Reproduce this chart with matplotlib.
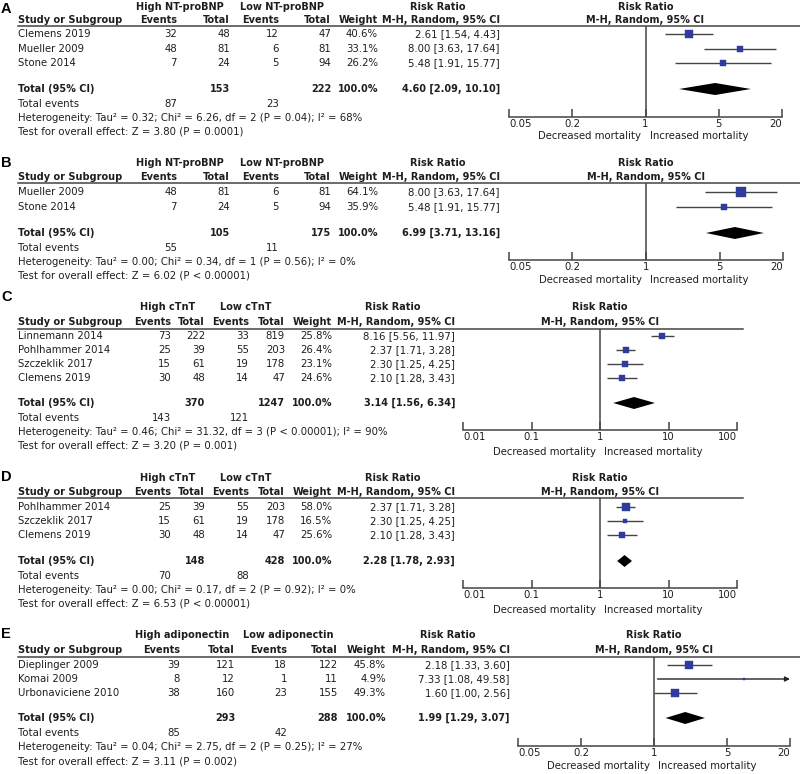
import matplotlib
matplotlib.use('Agg')
import matplotlib.pyplot as plt
from matplotlib import transforms
from matplotlib.ticker import FixedLocator, NullLocator
import numpy as np

# ---------------- data ----------------
A_studies = ["Clemens 2019", "Mueller 2009", "Stone 2014"]
A_ev_hi = [32, 48, 7]
A_n_hi = [48, 81, 24]
A_ev_lo = [12, 6, 5]
A_n_lo = [47, 81, 94]
A_weight = [40.6, 33.1, 26.2]
A_rr = [2.61, 8.00, 5.48]
A_lo = [1.54, 3.63, 1.91]
A_hi = [4.43, 17.64, 15.77]
A_totals = [153, 222]
A_tot_events = [87, 23]
A_pooled = [4.60, 2.09, 10.10]
A_groups = ["High NT-proBNP", "Low NT-proBNP"]
A_het = "Heterogeneity: Tau\u00b2 = 0.32; Chi\u00b2 = 6.26, df = 2 (P = 0.04); I\u00b2 = 68%"
A_test = "Test for overall effect: Z = 3.80 (P = 0.0001)"
A_ticks = [0.05, 0.2, 1, 5, 20]

B_studies = ["Mueller 2009", "Stone 2014"]
B_ev_hi = [48, 7]
B_n_hi = [81, 24]
B_ev_lo = [6, 5]
B_n_lo = [81, 94]
B_weight = [64.1, 35.9]
B_rr = [8.00, 5.48]
B_lo = [3.63, 1.91]
B_hi = [17.64, 15.77]
B_totals = [105, 175]
B_tot_events = [55, 11]
B_pooled = [6.99, 3.71, 13.16]
B_groups = ["High NT-proBNP", "Low NT-proBNP"]
B_het = "Heterogeneity: Tau\u00b2 = 0.00; Chi\u00b2 = 0.34, df = 1 (P = 0.56); I\u00b2 = 0%"
B_test = "Test for overall effect: Z = 6.02 (P < 0.00001)"
B_ticks = [0.05, 0.2, 1, 5, 20]

C_studies = ["Linnemann 2014", "Pohlhammer 2014", "Szczeklik 2017", "Clemens 2019"]
C_ev_hi = [73, 25, 15, 30]
C_n_hi = [222, 39, 61, 48]
C_ev_lo = [33, 55, 19, 14]
C_n_lo = [819, 203, 178, 47]
C_weight = [25.8, 26.4, 23.1, 24.6]
C_rr = [8.16, 2.37, 2.30, 2.10]
C_lo = [5.56, 1.71, 1.25, 1.28]
C_hi = [11.97, 3.28, 4.25, 3.43]
C_totals = [370, 1247]
C_tot_events = [143, 121]
C_pooled = [3.14, 1.56, 6.34]
C_groups = ["High cTnT", "Low cTnT"]
C_het = "Heterogeneity: Tau\u00b2 = 0.46; Chi\u00b2 = 31.32, df = 3 (P < 0.00001); I\u00b2 = 90%"
C_test = "Test for overall effect: Z = 3.20 (P = 0.001)"
C_ticks = [0.01, 0.1, 1, 10, 100]

D_studies = ["Pohlhammer 2014", "Szczeklik 2017", "Clemens 2019"]
D_ev_hi = [25, 15, 30]
D_n_hi = [39, 61, 48]
D_ev_lo = [55, 19, 14]
D_n_lo = [203, 178, 47]
D_weight = [58.0, 16.5, 25.6]
D_rr = [2.37, 2.30, 2.10]
D_lo = [1.71, 1.25, 1.28]
D_hi = [3.28, 4.25, 3.43]
D_totals = [148, 428]
D_tot_events = [70, 88]
D_pooled = [2.28, 1.78, 2.93]
D_groups = ["High cTnT", "Low cTnT"]
D_het = "Heterogeneity: Tau\u00b2 = 0.00; Chi\u00b2 = 0.17, df = 2 (P = 0.92); I\u00b2 = 0%"
D_test = "Test for overall effect: Z = 6.53 (P < 0.00001)"
D_ticks = [0.01, 0.1, 1, 10, 100]

E_studies = ["Dieplinger 2009", "Komai 2009", "Urbonaviciene 2010"]
E_ev_hi = [39, 8, 38]
E_n_hi = [121, 12, 160]
E_ev_lo = [18, 1, 23]
E_n_lo = [122, 11, 155]
E_weight = [45.8, 4.9, 49.3]
E_rr = [2.18, 7.33, 1.60]
E_lo = [1.33, 1.08, 1.00]
E_hi = [3.60, 49.58, 2.56]
E_totals = [293, 288]
E_tot_events = [85, 42]
E_pooled = [1.99, 1.29, 3.07]
E_groups = ["High adiponectin", "Low adiponectin"]
E_het = "Heterogeneity: Tau\u00b2 = 0.04; Chi\u00b2 = 2.75, df = 2 (P = 0.25); I\u00b2 = 27%"
E_test = "Test for overall effect: Z = 3.11 (P = 0.002)"
E_ticks = [0.05, 0.2, 1, 5, 20]

# ---------------- layout (pixels) ----------------
LAY_A = dict(letter_y=13, h1=7, h2=20, rule=26, row0=34, step=14.5, total=89, tev=104,
             het=118, test=131, axis=117, dec=136, cols=[177, 230, 279, 331, 378, 500],
             grp=[180, 282], rr_hdr=438, plot_x=(509, 782), rule_end=800)
LAY_B = dict(letter_y=167, h1=163, h2=177, rule=183, row0=192, step=15, total=233, tev=248,
             het=262, test=276, axis=260, dec=280, cols=[177, 230, 279, 331, 378, 500],
             grp=[180, 282], rr_hdr=438, plot_x=(509, 783), rule_end=800)
LAY_C = dict(letter_y=301, h1=307, h2=322, rule=329, row0=336, step=14, total=403, tev=418,
             het=432, test=446, axis=430, dec=452, cols=[171, 205, 249, 285, 332, 455],
             grp=[168, 246], rr_hdr=393, plot_x=(463, 737), rule_end=743)
LAY_D = dict(letter_y=481, h1=478, h2=492, rule=498, row0=507, step=14, total=561, tev=576,
             het=590, test=604, axis=588, dec=610, cols=[171, 205, 249, 285, 332, 455],
             grp=[168, 246], rr_hdr=393, plot_x=(463, 737), rule_end=743)
LAY_E = dict(letter_y=638, h1=635, h2=650, rule=657, row0=665, step=14, total=718, tev=733,
             het=747, test=761, axis=746, dec=766, cols=[180, 235, 287, 338, 386, 510],
             grp=[182, 288], rr_hdr=448, plot_x=(518, 790), rule_end=800)

def make_panel(letter, ns, lay):
    g = lambda k: ns[letter + "_" + k]
    return dict(letter=letter, studies=g("studies"), ev_hi=g("ev_hi"), n_hi=g("n_hi"),
                ev_lo=g("ev_lo"), n_lo=g("n_lo"), weight=g("weight"), rr=g("rr"),
                lo=g("lo"), hi=g("hi"), totals=g("totals"), tot_events=g("tot_events"),
                pooled=g("pooled"), groups=g("groups"), het=g("het"), test=g("test"),
                ticks=g("ticks"), lay=lay)

NS = globals()
panels = [make_panel("A", NS, LAY_A), make_panel("B", NS, LAY_B), make_panel("C", NS, LAY_C),
          make_panel("D", NS, LAY_D), make_panel("E", NS, LAY_E)]

# ---------------- drawing ----------------
W, H = 800, 774
fig = plt.figure(figsize=(W / 100, H / 100), dpi=100)
fig.patch.set_facecolor('white')
bg = fig.add_axes([0, 0, 1, 1])
bg.set_xlim(0, W)
bg.set_ylim(H, 0)
bg.axis('off')

FONT = 'DejaVu Sans'
FS = 7.3
FSB = 7.0
TXT = '#1e1e1e'
BLUE = '#2f3c9c'
LINE = '#444444'


def t(ax, x, y, s, ha='left', bold=False, **kw):
    ax.text(x, y, s, ha=ha, va='center', fontsize=FSB if bold else FS, family=FONT,
            fontweight='bold' if bold else 'normal', color=TXT, **kw)


for p in panels:
    L = p['lay']
    cols = L['cols']
    bg.text(1, L['letter_y'], p['letter'], fontsize=10.5, fontweight='bold',
            family='Liberation Sans', va='baseline', ha='left', color='black')
    t(bg, L['grp'][0], L['h1'], p['groups'][0], ha='center', bold=True)
    t(bg, L['grp'][1], L['h1'], p['groups'][1], ha='center', bold=True)
    t(bg, L['rr_hdr'], L['h1'], 'Risk Ratio', ha='center', bold=True)
    t(bg, 18, L['h2'], 'Study or Subgroup', bold=True)
    for c, s in zip(cols, ['Events', 'Total', 'Events', 'Total', 'Weight', 'M-H, Random, 95% CI']):
        t(bg, c, L['h2'], s, ha='right', bold=True)
    bg.plot([18, L['rule_end']], [L['rule'], L['rule']], color=LINE, lw=1.1)

    ys = [L['row0'] + i * L['step'] for i in range(len(p['studies']))]
    for i, y in enumerate(ys):
        t(bg, 18, y, p['studies'][i])
        for c, v in zip(cols[:4], [p['ev_hi'][i], p['n_hi'][i], p['ev_lo'][i], p['n_lo'][i]]):
            t(bg, c, y, str(v), ha='right')
        t(bg, cols[4], y, f"{p['weight'][i]:.1f}%", ha='right')
        t(bg, cols[5], y, f"{p['rr'][i]:.2f} [{p['lo'][i]:.2f}, {p['hi'][i]:.2f}]", ha='right')

    est, plo, phi = p['pooled']
    t(bg, 18, L['total'], 'Total (95% CI)', bold=True)
    t(bg, cols[1], L['total'], str(p['totals'][0]), ha='right', bold=True)
    t(bg, cols[3], L['total'], str(p['totals'][1]), ha='right', bold=True)
    t(bg, cols[4], L['total'], '100.0%', ha='right', bold=True)
    t(bg, cols[5], L['total'], f"{est:.2f} [{plo:.2f}, {phi:.2f}]", ha='right', bold=True)
    t(bg, 18, L['tev'], 'Total events')
    t(bg, cols[0], L['tev'], str(p['tot_events'][0]), ha='right')
    t(bg, cols[2], L['tev'], str(p['tot_events'][1]), ha='right')
    t(bg, 18, L['het'], p['het'])
    t(bg, 18, L['test'], p['test'])

    # forest plot axes
    x0, x1 = L['plot_x']
    ax = fig.add_axes([x0 / W, 1 - L['axis'] / H, (x1 - x0) / W, (L['axis'] - L['rule']) / H])
    ax.set_xscale('log')
    tk = p['ticks']
    ax.set_xlim(tk[0], tk[-1])
    ax.set_ylim(L['axis'], L['rule'])
    ax.patch.set_alpha(0)
    for s in ['top', 'left', 'right']:
        ax.spines[s].set_visible(False)
    ax.spines['bottom'].set_color(LINE)
    ax.spines['bottom'].set_linewidth(1.1)
    ax.yaxis.set_major_locator(NullLocator())
    ax.xaxis.set_major_locator(FixedLocator(tk))
    ax.xaxis.set_minor_locator(NullLocator())
    ax.set_xticks(tk)
    ax.set_xticklabels([f"{v:g}" for v in tk], fontsize=FS, family=FONT, color=TXT)
    labs = ax.get_xticklabels()
    labs[0].set_ha('left')
    labs[-1].set_ha('right')
    ax.tick_params(axis='x', direction='in', length=6, width=1.1, color=LINE, pad=1.2)
    ax.axvline(1, color=LINE, lw=1.1)

    xmax = tk[-1]
    for i, y in enumerate(ys):
        lo, hi, rr, w = p['lo'][i], p['hi'][i], p['rr'][i], p['weight'][i]
        if hi > xmax:
            ax.annotate('', xy=(xmax, y), xytext=(lo, y), annotation_clip=False,
                        arrowprops=dict(arrowstyle='-|>', color='#222222', lw=1.0,
                                        mutation_scale=7, shrinkA=0, shrinkB=0))
        else:
            ax.plot([lo, hi], [y, y], color=LINE, lw=1.0, solid_capstyle='butt')
        side_px = 1.15 * np.sqrt(w)
        ax.plot([rr], [y], marker='s', ms=side_px * 0.72, color=BLUE, mec=BLUE, mew=0.3,
                linestyle='none', zorder=3)

    yt = L['total']
    ax.fill([plo, est, phi, est], [yt, yt - 6, yt, yt + 6], color='black', lw=0, zorder=3)

    t(ax, 1, L['h1'], 'Risk Ratio', ha='center', bold=True, clip_on=False)
    t(ax, 1, L['h2'], 'M-H, Random, 95% CI', ha='center', bold=True, clip_on=False)
    t(ax, 1, L['dec'], 'Decreased mortality', ha='right', clip_on=False,
      transform=transforms.offset_copy(ax.transData, fig=fig, x=-4, y=0, units='dots'))
    t(ax, 1, L['dec'], 'Increased mortality', ha='left', clip_on=False,
      transform=transforms.offset_copy(ax.transData, fig=fig, x=4, y=0, units='dots'))

fig.savefig('out.png', dpi=100, facecolor='white')
